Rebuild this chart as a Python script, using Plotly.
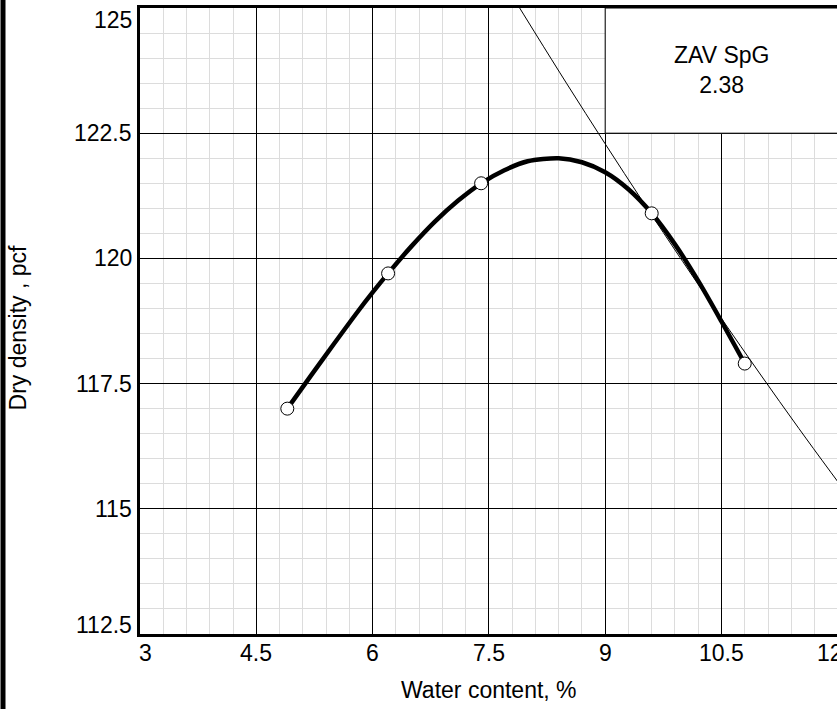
import plotly.graph_objects as go

# Compaction test points
water_content = [4.9, 6.2, 7.4, 9.6, 10.8]
dry_density = [117.0, 119.7, 121.5, 120.9, 117.9]

# Smooth compaction curve
curve_water = [4.9, 5.2, 5.5, 5.8, 6.0, 6.2, 6.5, 6.8, 7.1, 7.4, 7.7, 8.0, 8.4,
               8.7, 9.0, 9.3, 9.6, 9.9, 10.2, 10.5, 10.8]
curve_density = [117.0, 117.65, 118.29, 118.92, 119.32, 119.7, 120.24, 120.73, 121.15,
                 121.5, 121.76, 121.94, 122.0, 121.92, 121.72, 121.38, 120.9, 120.28,
                 119.55, 118.74, 117.9]

# Zero-air-voids line (SpG 2.38)
zav_water = [7.5, 8.5, 9.5, 10.5, 11.5, 12.5]
zav_density = [126.0, 123.5, 121.1, 118.8, 116.6, 114.5]

x_ticks = [3, 4.5, 6, 7.5, 9, 10.5, 12]
x_tick_labels = ["3", "4.5", "6", "7.5", "9", "10.5", "12"]
y_ticks = [112.5, 115, 117.5, 120, 122.5, 125]
y_tick_labels = ["112.5", "115", "117.5", "120", "122.5", "125"]

X_RANGE = [3, 11.99]
Y_RANGE = [112.5, 125]

FONT = "Liberation Sans, Arial, Helvetica, sans-serif"
FS = 23

fig = go.Figure()

fig.add_trace(go.Scatter(
    x=zav_water, y=zav_density, mode="lines",
    line=dict(color="black", width=1, shape="spline"),
    hoverinfo="skip", showlegend=False))

fig.add_trace(go.Scatter(
    x=curve_water, y=curve_density, mode="lines",
    line=dict(color="black", width=4.5, shape="spline", smoothing=0.8),
    hoverinfo="skip", showlegend=False))

fig.add_trace(go.Scatter(
    x=water_content, y=dry_density, mode="markers",
    marker=dict(size=13, color="white", line=dict(color="black", width=1)),
    showlegend=False))

# ZAV label box
fig.add_shape(type="rect", xref="x", yref="y", x0=9, x1=12.5, y0=122.5, y1=125,
              fillcolor="white", line=dict(color="black", width=1), layer="between")
fig.add_annotation(x=10.5, y=123.74, xref="x", yref="y",
                   text="ZAV SpG<br>2.38", showarrow=False, yshift=1,
                   font=dict(family=FONT, size=FS, color="black"))

# tick labels
for v, t in zip(y_ticks, y_tick_labels):
    if v == max(y_ticks):
        anchor, ys = "top", 3
    elif v == min(y_ticks):
        anchor, ys = "bottom", -6
    else:
        anchor, ys = "middle", 0
    fig.add_annotation(x=0, xref="paper", y=v, yref="y", text=t, showarrow=False,
                       xanchor="right", yanchor=anchor, xshift=-6, yshift=ys,
                       font=dict(family=FONT, size=FS, color="black"))
for v, t in zip(x_ticks, x_tick_labels):
    if v == min(x_ticks):
        anchor, xs = "left", -3
    elif v == max(x_ticks):
        anchor, xs = "center", -8
    else:
        anchor, xs = "center", 0
    xp = (v - X_RANGE[0]) / (X_RANGE[1] - X_RANGE[0])
    fig.add_annotation(x=xp, xref="paper", y=0, yref="paper", text=t, showarrow=False,
                       xanchor=anchor, yanchor="top", xshift=xs, yshift=-4,
                       font=dict(family=FONT, size=FS, color="black"))

# axis titles
fig.add_annotation(x=0.5, xref="paper", y=-0.0895, yref="paper", text="Water content, %",
                   showarrow=False, xanchor="center", yanchor="middle",
                   font=dict(family=FONT, size=FS, color="black"))
fig.add_annotation(x=-0.1744, xref="paper", y=0.4888, yref="paper", text="Dry density , pcf",
                   showarrow=False, xanchor="center", yanchor="middle", textangle=-90,
                   font=dict(family=FONT, size=FS, color="black"))

# page border at left edge (thin black bar)
fig.add_annotation(x=0, xref="paper", y=0.4465, yref="paper", text=" ",
                   showarrow=False, xanchor="left", yanchor="middle",
                   xshift=-140, width=4, height=730, bgcolor="black", borderpad=0,
                   font=dict(size=1))

fig.update_layout(
    width=837, height=709,
    margin=dict(l=140, r=0, t=8, b=75),
    paper_bgcolor="white", plot_bgcolor="white",
    font=dict(family=FONT, size=FS, color="black"),
    xaxis=dict(
        range=X_RANGE, tickmode="array", tickvals=x_ticks, showticklabels=False,
        showgrid=True, gridcolor="black", gridwidth=1,
        showline=True, linecolor="black", linewidth=3, mirror=True,
        ticks="", zeroline=False,
        minor=dict(dtick=0.3, tick0=3, showgrid=True, gridcolor="#dcdcdc", gridwidth=1),
    ),
    yaxis=dict(
        range=Y_RANGE, tickmode="array", tickvals=y_ticks, showticklabels=False,
        showgrid=True, gridcolor="black", gridwidth=1,
        showline=True, linecolor="black", linewidth=3,
        ticks="", zeroline=False,
        minor=dict(dtick=0.5, tick0=112.5, showgrid=True, gridcolor="#dcdcdc", gridwidth=1),
    ),
)

fig.write_html(
    "out.html",
    config={"displayModeBar": False},
    post_script="document.body.style.margin='0';document.body.style.overflow='hidden';",
)
